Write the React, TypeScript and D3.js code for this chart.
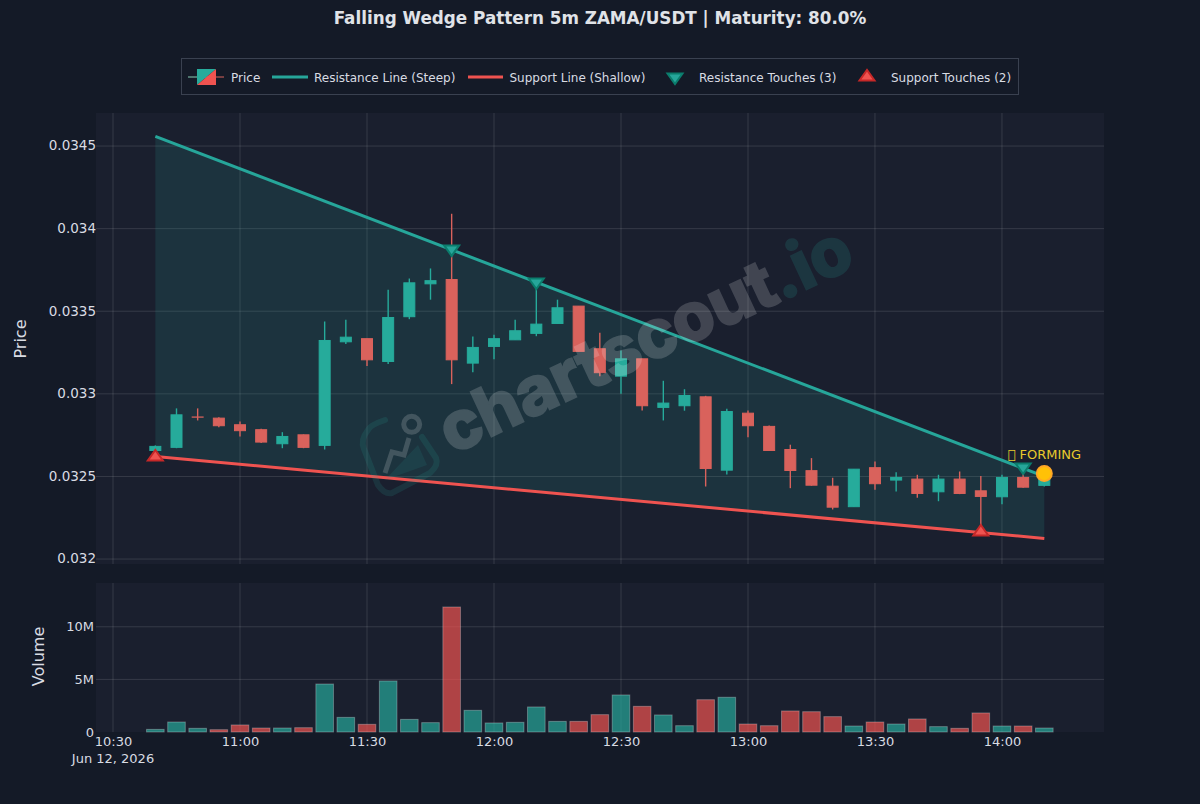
import React, { useEffect, useRef } from 'react';
import * as d3 from 'd3';

const WIDTH = 1200;
const HEIGHT = 804;

const UP = '#26ab9b';
const DOWN = '#d9625c';
const TEAL_LINE = '#26a69a';
const RED_LINE = '#ef5350';

// one entry per 5m candle, first candle is 10:40
const opens = [
  0.032657, 0.032676, 0.03286, 0.032853, 0.032813, 0.032783, 0.032698, 0.032752, 0.032688, 0.033315, 0.033334,
  0.033196, 0.033467, 0.033666, 0.033692, 0.033186, 0.033287, 0.033327, 0.033366, 0.033426, 0.033531, 0.033273,
  0.033107, 0.033212, 0.032918, 0.032928, 0.032982, 0.032538, 0.032883, 0.032803, 0.032663, 0.032535, 0.032441,
  0.032317, 0.032553, 0.032478, 0.032484, 0.032407, 0.032484, 0.032413, 0.032377, 0.032494, 0.032446,
];
const highs = [
  0.032688, 0.032912, 0.032912, 0.032859, 0.032833, 0.032789, 0.032768, 0.032754, 0.033438, 0.033449, 0.033334,
  0.03363, 0.033698, 0.033759, 0.03409, 0.033347, 0.033358, 0.033449, 0.033686, 0.03357, 0.033531, 0.03337,
  0.033263, 0.033212, 0.033079, 0.033028, 0.032988, 0.03291, 0.032899, 0.032809, 0.032692, 0.032611, 0.032492,
  0.032544, 0.032591, 0.032526, 0.03251, 0.03251, 0.03253, 0.032502, 0.03251, 0.032536, 0.032536,
];
const lows = [
  0.032657, 0.032671, 0.032839, 0.032798, 0.032742, 0.032702, 0.032671, 0.032671, 0.032663, 0.033301, 0.033168,
  0.03318, 0.033452, 0.03357, 0.033059, 0.03313, 0.03321, 0.033327, 0.033349, 0.033426, 0.033257, 0.033107,
  0.033001, 0.032899, 0.032839, 0.032898, 0.032439, 0.032512, 0.032738, 0.032657, 0.032429, 0.032444, 0.0323,
  0.032317, 0.032419, 0.032409, 0.032371, 0.03235, 0.032393, 0.032173, 0.032332, 0.032432, 0.032439,
];
const closes = [
  0.032682, 0.032873, 0.03286, 0.032807, 0.032777, 0.032708, 0.032742, 0.032676, 0.033323, 0.033343, 0.033206,
  0.033462, 0.033672, 0.033685, 0.033206, 0.033281, 0.033334, 0.033382, 0.033422, 0.033521, 0.033257, 0.033128,
  0.033212, 0.032928, 0.032944, 0.03299, 0.032548, 0.032893, 0.032807, 0.032657, 0.032536, 0.032447, 0.032314,
  0.032544, 0.032456, 0.032494, 0.032397, 0.032484, 0.032397, 0.032379, 0.032494, 0.032435, 0.032518,
];
const volumes = [
  0.25, 0.95, 0.35, 0.22, 0.67, 0.38, 0.38, 0.41, 4.56, 1.39, 0.73, 4.85, 1.2, 0.89, 11.88, 2.06, 0.86, 0.92, 2.38,
  1.01, 1.01, 1.65, 3.52, 2.44, 1.62, 0.6, 3.07, 3.3, 0.76, 0.6, 2.0, 1.93, 1.46, 0.57, 0.95, 0.76, 1.24, 0.51, 0.35,
  1.81, 0.57, 0.57, 0.38,
];

const priceTicks = [0.032, 0.0325, 0.033, 0.0335, 0.034, 0.0345];
const volumeTicks = [0, 5, 10];

// [candle index, price]
const resistanceLine = [[0, 0.034558], [42, 0.0325]];
const supportLine = [[0, 0.032621], [42, 0.032125]];
const resistanceTouches = [[14, 0.033868], [18, 0.033668], [41, 0.032548]];
const supportTouches = [[0, 0.032627], [39, 0.032173]];
const currentPoint = [42, 0.032518];

const timeOf = (i: number) => new Date(2026, 5, 12, 10, 40 + i * 5);

const App: React.FC = () => {
  const svgRef = useRef<SVGSVGElement>(null);

  useEffect(() => {
    if (!svgRef.current) return;
    const svg = d3.select(svgRef.current);
    svg.selectAll('*').remove();

    const left = 96;
    const right = 1104;
    const font = '"DejaVu Sans", sans-serif';

    const x = d3.scaleTime()
      .domain([new Date(2026, 5, 12, 10, 25, 59), new Date(2026, 5, 12, 14, 24, 6)])
      .range([left, right]);
    const y = d3.scaleLinear().domain([0.03197, 0.0347]).range([564, 113]);
    const yVol = d3.scaleLinear().domain([0, 14.16]).range([732, 583]);

    svg.append('rect').attr('width', WIDTH).attr('height', HEIGHT).attr('fill', '#141a27');

    // panels
    [[113, 564], [583, 732]].forEach(([t, b]) => {
      svg.append('rect').attr('x', left).attr('y', t).attr('width', right - left).attr('height', b - t)
        .attr('fill', '#1a1f2e');
    });

    const grid = 'rgba(255,255,255,0.12)';
    const timeTicks = x.ticks(d3.timeMinute.every(30) as d3.TimeInterval);
    const gridG = svg.append('g').attr('stroke', grid).attr('stroke-width', 1);
    timeTicks.forEach(t => {
      gridG.append('line').attr('x1', x(t)).attr('x2', x(t)).attr('y1', 113).attr('y2', 564);
      gridG.append('line').attr('x1', x(t)).attr('x2', x(t)).attr('y1', 583).attr('y2', 732);
    });
    priceTicks.forEach(p => {
      gridG.append('line').attr('x1', left).attr('x2', right).attr('y1', y(p)).attr('y2', y(p));
    });
    volumeTicks.filter(v => v > 0).forEach(v => {
      gridG.append('line').attr('x1', left).attr('x2', right).attr('y1', yVol(v)).attr('y2', yVol(v));
    });

    // wedge fill
    const wedge = [
      [x(timeOf(resistanceLine[0][0])), y(resistanceLine[0][1])],
      [x(timeOf(resistanceLine[1][0])), y(resistanceLine[1][1])],
      [x(timeOf(supportLine[1][0])), y(supportLine[1][1])],
      [x(timeOf(supportLine[0][0])), y(supportLine[0][1])],
    ] as [number, number][];
    svg.append('path').attr('d', d3.line()(wedge) + 'Z').attr('fill', 'rgba(38,166,154,0.15)');

    // candles
    const candles = svg.append('g');
    closes.forEach((c, i) => {
      const o = opens[i];
      const color = c > o ? UP : DOWN;
      const cx = x(timeOf(i));
      candles.append('line').attr('x1', cx).attr('x2', cx).attr('y1', y(highs[i])).attr('y2', y(lows[i]))
        .attr('stroke', color).attr('stroke-width', 1.4);
      // doji has no body height, keep it visible as a thin bar
      candles.append('rect').attr('x', cx - 5.5).attr('width', 11)
        .attr('y', y(Math.max(o, c))).attr('height', Math.max(Math.abs(y(o) - y(c)), 0.2))
        .attr('fill', color).attr('stroke', color).attr('stroke-width', 1);
    });

    // volume bars
    const bars = svg.append('g');
    volumes.forEach((v, i) => {
      const isUp = closes[i] >= opens[i];
      bars.append('rect').attr('x', x(timeOf(i)) - 8.8).attr('width', 17.6)
        .attr('y', yVol(v)).attr('height', yVol(0) - yVol(v))
        .attr('fill', isUp ? 'rgba(38,166,154,0.7)' : 'rgba(239,83,80,0.7)')
        .attr('stroke', 'rgba(255,255,255,0.28)').attr('stroke-width', 1);
    });

    // pattern lines
    const line = d3.line<number[]>().x(d => x(timeOf(d[0]))).y(d => y(d[1]));
    svg.append('path').attr('d', line(resistanceLine)).attr('fill', 'none').attr('stroke', TEAL_LINE).attr('stroke-width', 3);
    svg.append('path').attr('d', line(supportLine)).attr('fill', 'none').attr('stroke', RED_LINE).attr('stroke-width', 3);

    // touches
    const triDown = 'M-7.5,-5H7.5L0,5.5Z';
    const triUp = 'M-7.5,5H7.5L0,-5.5Z';
    resistanceTouches.forEach(([i, p]) => {
      svg.append('path').attr('d', triDown)
        .attr('transform', `translate(${x(timeOf(i))},${y(p)})`)
        .attr('fill', TEAL_LINE).attr('stroke', '#0b7d6d').attr('stroke-width', 2);
    });
    supportTouches.forEach(([i, p]) => {
      svg.append('path').attr('d', triUp)
        .attr('transform', `translate(${x(timeOf(i))},${y(p)})`)
        .attr('fill', RED_LINE).attr('stroke', '#c62828').attr('stroke-width', 2);
    });

    // current price point + label, the first char has no glyph in the fonts
    const curX = x(timeOf(currentPoint[0]));
    const curY = y(currentPoint[1]);
    svg.append('text').attr('x', curX).attr('y', curY - 14).attr('text-anchor', 'middle')
      .attr('font-family', font).attr('font-size', 13).attr('fill', '#e9c92c').text('\uE000 FORMING');
    svg.append('circle').attr('cx', curX).attr('cy', curY).attr('r', 7.5)
      .attr('fill', '#ffc107').attr('stroke', '#ffa726').attr('stroke-width', 2);

    // axes
    const styleAxis = (size: number) => (g: d3.Selection<SVGGElement, unknown, null, undefined>) => {
      g.select('.domain').remove();
      g.selectAll('.tick line').remove();
      g.selectAll('text').attr('fill', '#d9dce3').attr('font-size', size).attr('font-family', font);
    };
    svg.append('g').attr('transform', 'translate(99,-0.5)')
      .call(d3.axisLeft(y).tickValues(priceTicks).tickFormat(d => String(d)).tickSize(0).tickPadding(3))
      .call(styleAxis(13.5));
    svg.append('g').attr('transform', 'translate(97,0)')
      .call(d3.axisLeft(yVol).tickValues(volumeTicks).tickFormat(d => (+d === 0 ? '0' : `${d}M`)).tickSize(0).tickPadding(3))
      .call(styleAxis(13));
    svg.append('g').attr('transform', 'translate(0,734)')
      .call(d3.axisBottom(x).tickValues(timeTicks).tickFormat(d => d3.timeFormat('%H:%M')(d as Date)).tickSize(0).tickPadding(3))
      .call(styleAxis(13));
    svg.append('text').attr('x', x(timeTicks[0])).attr('y', 763).attr('text-anchor', 'middle')
      .attr('font-family', font).attr('font-size', 13).attr('fill', '#d9dce3').text('Jun 12, 2026');

    svg.append('text').attr('transform', 'translate(26,339) rotate(-90)').attr('text-anchor', 'middle')
      .attr('font-family', font).attr('font-size', 16).attr('fill', '#d9dce3').text('Price');
    svg.append('text').attr('transform', 'translate(44,656.5) rotate(-90)').attr('text-anchor', 'middle')
      .attr('font-family', font).attr('font-size', 16).attr('fill', '#d9dce3').text('Volume');

    // title
    svg.append('text').attr('x', 600).attr('y', 24).attr('text-anchor', 'middle')
      .attr('font-family', font).attr('font-size', 16.8).attr('font-weight', 'bold').attr('fill', '#e0e3e8')
      .text('Falling Wedge Pattern 5m ZAMA/USDT | Maturity: 80.0%');

    // legend
    const lg = svg.append('g');
    lg.append('rect').attr('x', 181.5).attr('y', 58.5).attr('width', 837).attr('height', 36)
      .attr('fill', 'none').attr('stroke', '#3a4150');
    const lgText = (tx: number, s: string) => lg.append('text').attr('x', tx).attr('y', 82)
      .attr('font-family', font).attr('font-size', 12).attr('fill', '#d9dce3').text(s);
    lg.append('line').attr('x1', 188).attr('x2', 224).attr('y1', 77).attr('y2', 77).attr('stroke', DOWN).attr('stroke-width', 1);
    lg.append('line').attr('x1', 188).attr('x2', 206).attr('y1', 77).attr('y2', 77).attr('stroke', UP).attr('stroke-width', 1);
    lg.append('path').attr('d', 'M197,69H216L197,85Z').attr('fill', UP);
    lg.append('path').attr('d', 'M216,69V85H197Z').attr('fill', RED_LINE);
    lgText(231, 'Price');
    lg.append('line').attr('x1', 272).attr('x2', 308).attr('y1', 77).attr('y2', 77).attr('stroke', TEAL_LINE).attr('stroke-width', 3);
    lgText(314, 'Resistance Line (Steep)');
    lg.append('line').attr('x1', 468).attr('x2', 503).attr('y1', 77).attr('y2', 77).attr('stroke', RED_LINE).attr('stroke-width', 3);
    lgText(509.5, 'Support Line (Shallow)');
    lg.append('path').attr('d', triDown).attr('transform', 'translate(675,78.5)')
      .attr('fill', TEAL_LINE).attr('stroke', '#0b7d6d').attr('stroke-width', 2);
    lgText(699, 'Resistance Touches (3)');
    lg.append('path').attr('d', triUp).attr('transform', 'translate(867,75.5)')
      .attr('fill', RED_LINE).attr('stroke', '#c62828').attr('stroke-width', 2);
    lgText(891, 'Support Touches (2)');

    // watermark on top of everything
    const wm = svg.append('g').attr('pointer-events', 'none');
    const teal = 'rgba(38,166,154,0.15)';
    const grey = 'rgba(255,255,255,0.17)';
    wm.append('path').attr('d', 'M385,420 Q370,425 368,430 Q360,440 364,449 L378,485 Q385,495 392,493 L430,473 Q439,465 436,458 L422,437')
      .attr('fill', 'none').attr('stroke', teal).attr('stroke-width', 6).attr('stroke-linecap', 'round');
    wm.append('path').attr('d', 'M385,480 L427,465 L418,445 Z').attr('fill', 'rgba(38,166,154,0.12)');
    wm.append('circle').attr('cx', 411.7).attr('cy', 424.3).attr('r', 8).attr('fill', 'none').attr('stroke', grey).attr('stroke-width', 5);
    wm.append('path').attr('d', 'M409,438 L404,455 L392,452 L385,473')
      .attr('fill', 'none').attr('stroke', grey).attr('stroke-width', 5);
    // group opacity so fill + stroke do not add up where they overlap
    const wmG = wm.append('g').attr('opacity', 0.17);
    const wmText = wmG.append('text').attr('transform', 'translate(452,455) rotate(-25)')
      .attr('font-family', 'Inter, sans-serif').attr('font-size', 68).attr('font-weight', 800)
      .attr('textLength', 448).attr('fill', '#fff').attr('stroke', '#fff').attr('stroke-width', 1.5);
    wmText.append('tspan').text('chartscout');
    wmText.append('tspan').attr('fill', TEAL_LINE).attr('stroke', TEAL_LINE).text('.io');
  }, []);

  return (
    <svg
      ref={svgRef}
      width={WIDTH}
      height={HEIGHT}
      style={{ position: 'absolute', left: 0, top: 0, display: 'block' }}
    />
  );
};

export default App;
